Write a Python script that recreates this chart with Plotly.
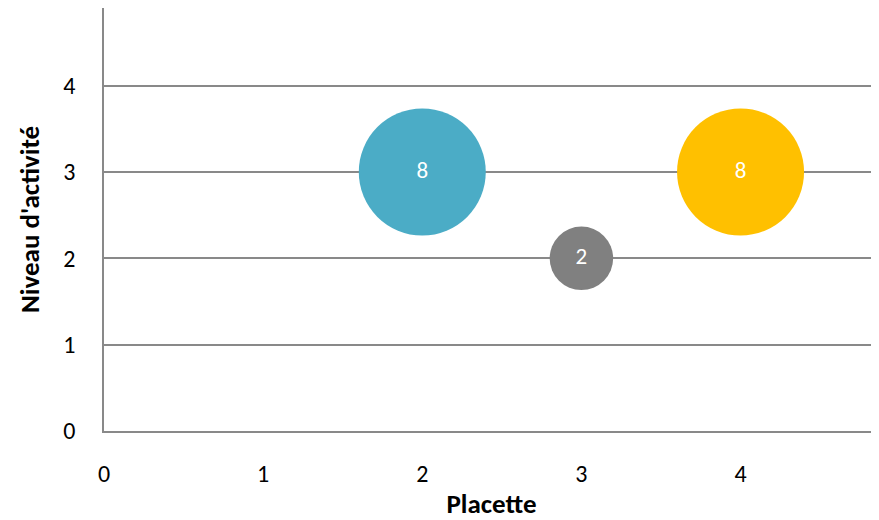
import plotly.graph_objects as go

placette = [2, 3, 4]
niveau = [3, 2, 3]
effectif = [8, 2, 8]
couleurs = ["#4BACC6", "#808080", "#FFC000"]
labels = ["8", "2", "8"]

FONT = "Calibri, Carlito, Lato, sans-serif"
max_diam = 127

fig = go.Figure(go.Scatter(
    x=placette, y=niveau, mode="markers+text",
    text=labels, textposition="middle center",
    textfont=dict(family=FONT, size=23, color="white"),
    marker=dict(size=effectif, sizemode="area",
                sizeref=2 * max(effectif) / max_diam ** 2,
                color=couleurs, line=dict(width=0), opacity=1),
    showlegend=False, hoverinfo="skip",
))

fig.update_layout(
    width=871, height=512,
    margin=dict(l=96, r=0, t=0, b=89),
    paper_bgcolor="white", plot_bgcolor="white",
    font=dict(family=FONT, size=24, color="black"),
    xaxis=dict(range=[0, 4.87], tickvals=[0, 1, 2, 3, 4], showgrid=False,
               zeroline=False, showline=True, linecolor="#898989", linewidth=1.5,
               ticks="", ticklabelstandoff=20,
               title=dict(text="<b>Placette</b>", font=dict(size=27), standoff=11)),
    yaxis=dict(range=[0, 4.9], tickvals=[0, 1, 2, 3, 4], showgrid=True,
               gridcolor="#898989", gridwidth=1.5,
               zeroline=False, showline=True, linecolor="#898989", linewidth=1.5,
               ticks="", ticklabelstandoff=22,
               title=dict(text="<b>Niveau d'activité</b>", font=dict(size=27), standoff=16)),
)

fig.write_html("out.html")
